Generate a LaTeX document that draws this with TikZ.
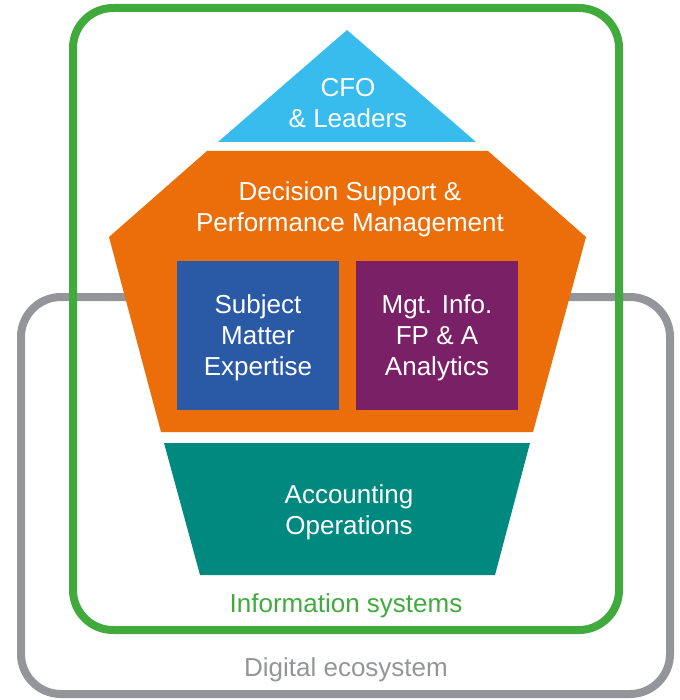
\documentclass[tikz,border=0pt]{standalone}
\usepackage{fontspec}
\setmainfont{Liberation Sans}
\usepackage{tikz}
\usetikzlibrary{positioning}

\definecolor{isgreen}{HTML}{40AA3C}
\definecolor{ecogray}{HTML}{939598}
\definecolor{cfoblue}{HTML}{38BCEE}
\definecolor{dsorange}{HTML}{EB6E0A}
\definecolor{smeblue}{HTML}{2A5AA6}
\definecolor{mipurple}{HTML}{7A2067}
\definecolor{acteal}{HTML}{00897F}

\begin{document}
\begin{tikzpicture}[
    x=1pt, y=-1pt,
    frame/.style={line width=8pt, rounded corners=40pt},
    label/.style={text=white, align=center, font=\fontsize{26}{31}\selectfont, inner sep=0pt},
    caption/.style={align=center, font=\fontsize{26}{31}\selectfont, inner sep=0pt}
]
\useasboundingbox (0,0) rectangle (679,700);

% outer frames
\draw[frame, ecogray] (21,297) rectangle (670,694);
\draw[frame, isgreen] (73,8) rectangle (619,630);

% layers
\fill[cfoblue] (347,30) -- (476,142) -- (218,142) -- cycle;
\fill[dsorange] (207,151) -- (488,151) -- (586,237) -- (533,432) -- (161,432) -- (109,237) -- cycle;
\fill[smeblue] (177,261) rectangle (339,410);
\fill[mipurple] (356,261) rectangle (518,410);
\fill[acteal] (164,443) -- (530,443) -- (495,575) -- (200,575) -- cycle;

% texts
\node[label] (cfo) at (348,103) {CFO\\\& Leaders};
\node[label] (dsupport) at (350,209) {Decision Support \&\\Performance Management};
\node[label] (sme) at (258,338) {Subject\\Matter\\Expertise};
\node[label] (mgtinfo) at (437,338) {Mgt. Info.\\FP \& A\\Analytics};
\node[label] (accops) at (349,512) {Accounting\\Operations};
\node[caption, text=isgreen] (infosys) at (346,606) {Information systems};
\node[caption, text=ecogray] (digieco) at (346,670) {Digital ecosystem};

\end{tikzpicture}
\end{document}
